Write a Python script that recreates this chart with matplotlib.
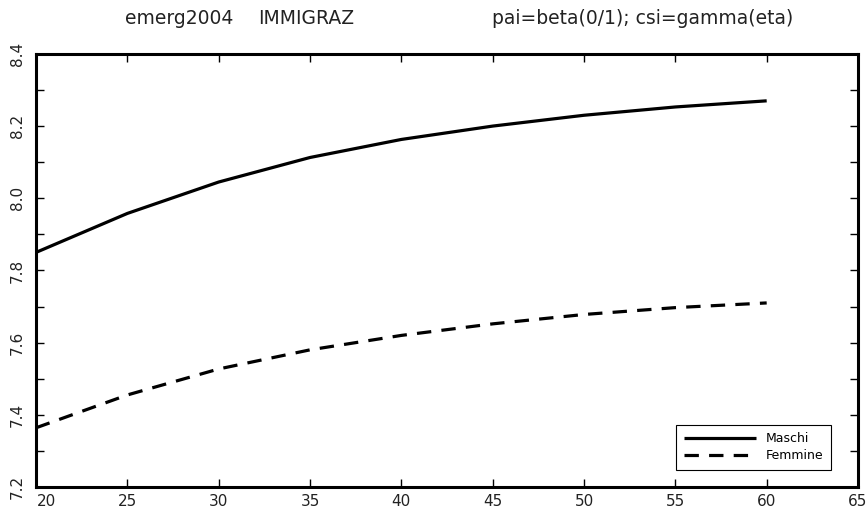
import numpy as np
import matplotlib.pyplot as plt
import matplotlib.transforms as mtransforms
from matplotlib.ticker import MultipleLocator

# eta (anni)
eta = [20, 25, 30, 35, 40, 45, 50, 55, 60]
maschi = [7.850, 7.958, 8.045, 8.113, 8.163, 8.200, 8.230, 8.253, 8.270]
femmine = [7.364, 7.455, 7.527, 7.580, 7.620, 7.652, 7.678, 7.697, 7.710]

# titolo in tre campi
titolo = ["emerg2004", "IMMIGRAZ", "pai=beta(0/1); csi=gamma(eta)"]
titolo_x = [0.206, 0.353, 0.740]

fig = plt.figure(figsize=(8.68, 5.11), dpi=100)
ax = fig.add_axes([0.0415, 0.047, 0.947, 0.8475])

ax.plot(eta, maschi, color='black', lw=2.3, solid_capstyle='butt', label='Maschi')
ax.plot(eta, femmine, color='black', lw=2.3, linestyle=(0, (4.5, 3.2)),
        dash_capstyle='butt', label='Femmine')

ax.set_xlim(20, 65)
ax.set_ylim(7.2, 8.4)
ax.yaxis.set_minor_locator(MultipleLocator(0.1))
yt = np.arange(7.2, 8.41, 0.2)
ax.set_yticks(yt)
ax.set_yticklabels([f"{v:.1f}" for v in yt], rotation=90, va='center')
ax.set_xticks(np.arange(20, 66, 5))
ax.set_xticklabels([str(v) for v in range(20, 66, 5)])

for s in ax.spines.values():
    s.set_linewidth(2.2)
ax.tick_params(which='both', direction='in', top=True, right=True,
               width=1.0, length=6, labelsize=11, colors='black')
ax.tick_params(axis='x', pad=5)
ax.tick_params(axis='y', pad=8)
for lab in ax.get_xticklabels() + ax.get_yticklabels():
    lab.set_color('#222222')

# sposta l'etichetta "20" a destra per non toccare "7.2"
primo = ax.get_xticklabels()[0]
primo.set_transform(primo.get_transform() +
                    mtransforms.ScaledTranslation(0.1, 0, fig.dpi_scale_trans))

for t, x in zip(titolo, titolo_x):
    fig.text(x, 0.963, t, ha='center', va='center', fontsize=13.5, color='#222222')

leg = ax.legend(loc='lower right', bbox_to_anchor=(0.975, 0.025), fontsize=9,
                fancybox=False, framealpha=1, edgecolor='black',
                handlelength=5.8, handletextpad=0.8, borderpad=0.6,
                labelspacing=0.35)
leg.get_frame().set_linewidth(0.8)

fig.savefig('out.png', dpi=100)
